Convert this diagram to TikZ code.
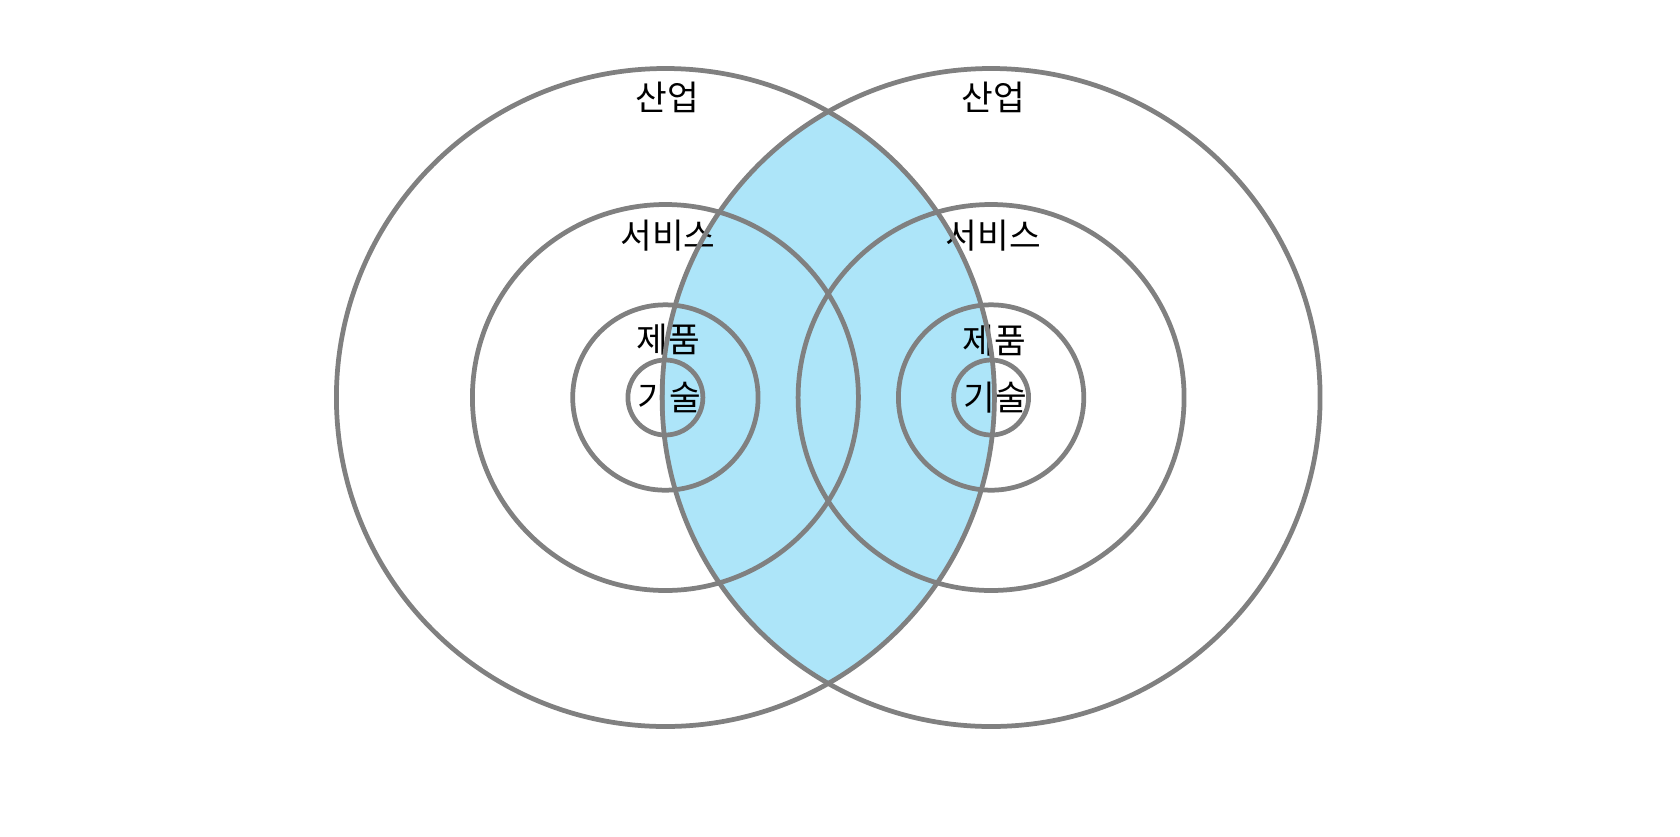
\documentclass[tikz,border=0pt]{standalone}
\usepackage{fontspec}
\setmainfont{Noto Sans CJK KR}
\definecolor{lensblue}{HTML}{ADE5F9}
\definecolor{ringgray}{HTML}{808080}
\tikzset{
  ring/.style={circle, draw=ringgray, line width=0.095cm, inner sep=0pt, minimum size=#1},
  lbl/.style={font=\fontsize{19.6pt}{21pt}\selectfont, text=black, inner sep=0pt}
}
\begin{document}
\begin{tikzpicture}[x=0.02cm, y=-0.02cm]
        % 1. VARIABLES
        \def\Ro{329}   % raio do anel externo
        \def\Rs{193}   % raio do anel de servico
        \def\Rp{92.7}  % raio do anel de produto
        \def\Rt{37.5}  % raio do anel de tecnologia

        \useasboundingbox (0,0) rectangle (1680,836);
        \coordinate (cL) at (665.4,397.5);
        \coordinate (cR) at (991.1,397.5);

        % ==========================================
        % 2. INTERSECAO (LENTE)
        % ==========================================
        \begin{scope}
          \clip (cL) circle (\Ro);
          \fill[lensblue] (cR) circle (\Ro);
        \end{scope}

        % ==========================================
        % 3. ROTULOS
        % ==========================================
        \node[lbl] (indL) at (667.5,97)  {산업};
        \node[lbl] (svcL) at (668,236)   {서비스};
        \node[lbl] (prdL) at (668,340)   {제품};
        \node[lbl] (tecL) at (669,397.5) {기술};
        \node[lbl] (indR) at (993,97)    {산업};
        \node[lbl] (svcR) at (993.5,236) {서비스};
        \node[lbl] (prdR) at (994,341)   {제품};
        \node[lbl] (tecR) at (995,397.5) {기술};

        % ==========================================
        % 4. ANEIS
        % ==========================================
        \node[ring=2*\Ro*0.02cm] (outerL) at (cL) {};
        \node[ring=2*\Rs*0.02cm] (serviceL) at (cL) {};
        \node[ring=2*\Rp*0.02cm] (productL) at (cL) {};
        \node[ring=2*\Rt*0.02cm] (techL) at (cL) {};
        \node[ring=2*\Ro*0.02cm] (outerR) at (cR) {};
        \node[ring=2*\Rs*0.02cm] (serviceR) at (cR) {};
        \node[ring=2*\Rp*0.02cm] (productR) at (cR) {};
        \node[ring=2*\Rt*0.02cm] (techR) at (cR) {};

    \end{tikzpicture}
\end{document}
